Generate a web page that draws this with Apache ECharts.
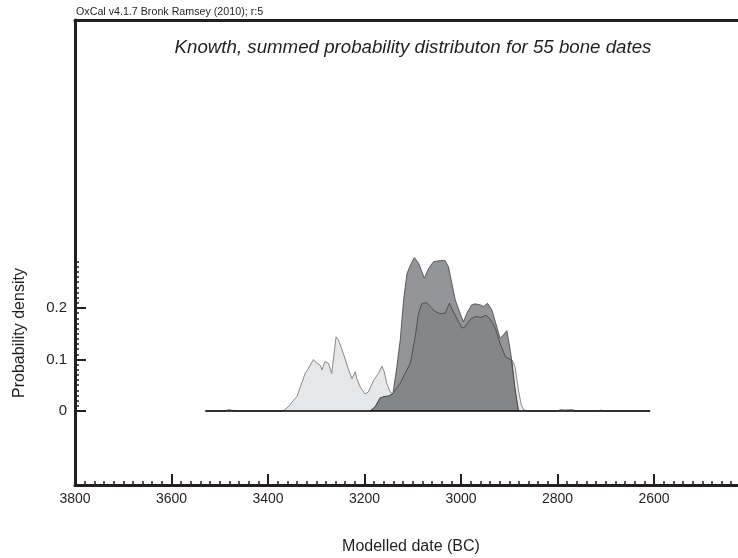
<!DOCTYPE html>
<html>
<head>
<meta charset="utf-8">
<script src="https://cdn.jsdelivr.net/npm/echarts@6/dist/echarts.min.js"></script>
<style>
  html, body { margin: 0; padding: 0; background: #ffffff; }
  #chart { width: 738px; height: 558px; }
</style>
</head>
<body>
<div id="chart"></div>
<script>
// Summed probability distributions, [year BC, density]
const unmodelledSum = [
  [3530, 0], [3490, 0], [3482, 0.003], [3476, 0.002], [3470, 0], [3380, 0], [3369, 0],
  [3365, 0.002], [3356, 0.010], [3347, 0.021], [3340, 0.028], [3333, 0.047], [3323, 0.073],
  [3316, 0.083], [3306, 0.100], [3299, 0.093], [3292, 0.089], [3288, 0.080], [3282, 0.096],
  [3275, 0.093], [3268, 0.073], [3264, 0.076], [3259, 0.144], [3254, 0.138], [3244, 0.112],
  [3233, 0.080], [3226, 0.063], [3219, 0.076], [3216, 0.063], [3209, 0.047], [3199, 0.033],
  [3192, 0.037], [3181, 0.060], [3171, 0.073], [3164, 0.087], [3159, 0.076], [3154, 0.054],
  [3147, 0.037], [3141, 0.033], [3130, 0.040], [3115, 0.060], [3100, 0.085], [3090, 0.120],
  [3075, 0.160], [3050, 0.160], [3030, 0.170], [3010, 0.150], [2990, 0.140], [2970, 0.160],
  [2950, 0.160], [2930, 0.140], [2915, 0.110], [2905, 0.100], [2898, 0.098], [2893, 0.098],
  [2888, 0.085], [2884, 0.060], [2880, 0.035], [2875, 0.012], [2870, 0.002], [2860, 0],
  [2800, 0], [2793, 0.003], [2785, 0.002], [2770, 0.003], [2760, 0], [2715, 0],
  [2710, 0.002], [2705, 0], [2608, 0]
];

const boneSumUpper = [
  [3188, 0], [3178, 0.008], [3168, 0.025], [3159, 0.028], [3150, 0.029], [3141, 0.034],
  [3133, 0.086], [3126, 0.138], [3119, 0.216], [3112, 0.267], [3105, 0.283], [3097, 0.298],
  [3088, 0.287], [3076, 0.258], [3067, 0.277], [3057, 0.290], [3043, 0.292], [3033, 0.292],
  [3026, 0.280], [3019, 0.248], [3012, 0.216], [3002, 0.190], [2995, 0.173], [2988, 0.190],
  [2978, 0.206], [2971, 0.208], [2960, 0.206], [2953, 0.203], [2945, 0.209], [2936, 0.196],
  [2926, 0.164], [2919, 0.141], [2912, 0.148], [2905, 0.156], [2898, 0.118], [2895, 0.099],
  [2888, 0.041], [2881, 0]
];

const boneSumLower = [
  [3188, 0], [3178, 0.008], [3168, 0.025], [3159, 0.028], [3150, 0.029], [3141, 0.034],
  [3133, 0.045], [3126, 0.054], [3116, 0.073], [3105, 0.093], [3095, 0.144], [3088, 0.190],
  [3081, 0.209], [3071, 0.210], [3060, 0.199], [3053, 0.193], [3043, 0.189], [3033, 0.190],
  [3024, 0.209], [3016, 0.193], [3005, 0.173], [2998, 0.161], [2991, 0.164], [2981, 0.178],
  [2971, 0.183], [2957, 0.182], [2948, 0.186], [2939, 0.178], [2929, 0.161], [2919, 0.131],
  [2908, 0.105], [2897, 0.100], [2895, 0.095], [2888, 0.041], [2881, 0]
];

// Span of the calculated range (zero line)
const rangeLine = [[3530, 0], [2608, 0]];

// Axis ticks and labels
const xMajorTicks = [3800, 3600, 3400, 3200, 3000, 2800, 2600];
const yMajorTicks = [0, 0.1, 0.2];

const xMinorTicks = [];
for (let y = 3800; y >= 2440; y -= 20) if (y % 200 !== 0) xMinorTicks.push(y);
const yMinorTicks = [];
for (let i = 1; i <= 29; i++) if (i % 10 !== 0) yMinorTicks.push(i / 100);

const ink = '#231f20';
const fontFamily = '"Liberation Sans", Arial, Helvetica, sans-serif';

const xRange = { min: 2426, max: 3800 };
const yRange = { min: -0.1437, max: 0.7592 };

function xAxisBase(extra) {
  return Object.assign({
    type: 'value', inverse: true, min: xRange.min, max: xRange.max,
    position: 'bottom', splitLine: { show: false },
    axisLine: { show: false, onZero: false }
  }, extra);
}
function yAxisBase(extra) {
  return Object.assign({
    type: 'value', min: yRange.min, max: yRange.max,
    position: 'left', splitLine: { show: false },
    axisLine: { show: false, onZero: false }
  }, extra);
}

const chart = echarts.init(document.getElementById('chart'), null, { renderer: 'canvas' });

chart.setOption({
  animation: false,
  backgroundColor: '#ffffff',
  textStyle: { fontFamily: fontFamily, color: ink },
  grid: { left: 75, right: 0, top: 20, bottom: 73, containLabel: false },
  xAxis: [
    xAxisBase({
      axisLine: { show: true, onZero: false, lineStyle: { color: ink, width: 3 } },
      axisTick: { show: true, inside: true, length: 11, customValues: xMajorTicks,
                  lineStyle: { color: ink, width: 2 } },
      axisLabel: { show: true, customValues: xMajorTicks, margin: 7, fontSize: 14,
                   color: ink, fontFamily: fontFamily,
                   formatter: function (v) { return String(v); } }
    }),
    xAxisBase({
      axisTick: { show: true, inside: true, length: 4, customValues: xMinorTicks,
                  lineStyle: { color: ink, width: 1.5 } },
      axisLabel: { show: false }
    }),
    xAxisBase({
      position: 'top',
      axisLine: { show: true, onZero: false, lineStyle: { color: ink, width: 3 } },
      axisTick: { show: false },
      axisLabel: { show: false }
    })
  ],
  yAxis: [
    yAxisBase({
      axisLine: { show: true, onZero: false, lineStyle: { color: ink, width: 3 } },
      axisTick: { show: true, inside: true, length: 11, customValues: yMajorTicks,
                  lineStyle: { color: ink, width: 2 } },
      axisLabel: { show: true, customValues: yMajorTicks, margin: 8, fontSize: 15,
                   color: ink, fontFamily: fontFamily,
                   formatter: function (v) { return String(v); } }
    }),
    yAxisBase({
      axisTick: { show: true, inside: true, length: 4, customValues: yMinorTicks,
                  lineStyle: { color: ink, width: 1.5 } },
      axisLabel: { show: false }
    })
  ],
  graphic: [
    { type: 'text', left: 76, top: 7,
      style: { text: 'OxCal v4.1.7 Bronk Ramsey (2010); r:5', fill: ink,
               font: '10.7px ' + fontFamily } },
    { type: 'text', x: 413, y: 48,
      style: { text: 'Knowth, summed probability distributon for 55 bone dates', fill: ink,
               font: 'italic 18.7px ' + fontFamily, align: 'center', verticalAlign: 'middle' } },
    { type: 'text', x: 411, y: 547,
      style: { text: 'Modelled date (BC)', fill: ink,
               font: '16px ' + fontFamily, align: 'center', verticalAlign: 'middle' } },
    { type: 'text', x: 20, y: 333, rotation: Math.PI / 2,
      style: { text: 'Probability density', fill: ink,
               font: '16px ' + fontFamily, align: 'center', verticalAlign: 'middle' } }
  ],
  series: [
    {
      name: 'Unmodelled', type: 'line', data: unmodelledSum, symbol: 'none', smooth: false,
      xAxisIndex: 0, yAxisIndex: 0, z: 2,
      lineStyle: { color: '#6d6e71', width: 0.8 },
      areaStyle: { color: '#e6e7e8', opacity: 1 }
    },
    {
      name: 'Sum upper', type: 'line', data: boneSumUpper, symbol: 'none', smooth: false,
      xAxisIndex: 0, yAxisIndex: 0, z: 3,
      lineStyle: { color: '#414042', width: 0.8 },
      areaStyle: { color: '#939598', opacity: 1 }
    },
    {
      name: 'Sum lower', type: 'line', data: boneSumLower, symbol: 'none', smooth: false,
      xAxisIndex: 0, yAxisIndex: 0, z: 4,
      lineStyle: { color: '#414042', width: 0.8 },
      areaStyle: { color: '#858689', opacity: 1 }
    },
    {
      name: 'Range', type: 'line', data: rangeLine, symbol: 'none',
      xAxisIndex: 0, yAxisIndex: 0, z: 5,
      lineStyle: { color: '#000000', width: 1.5 }
    }
  ]
});
</script>
</body>
</html>
